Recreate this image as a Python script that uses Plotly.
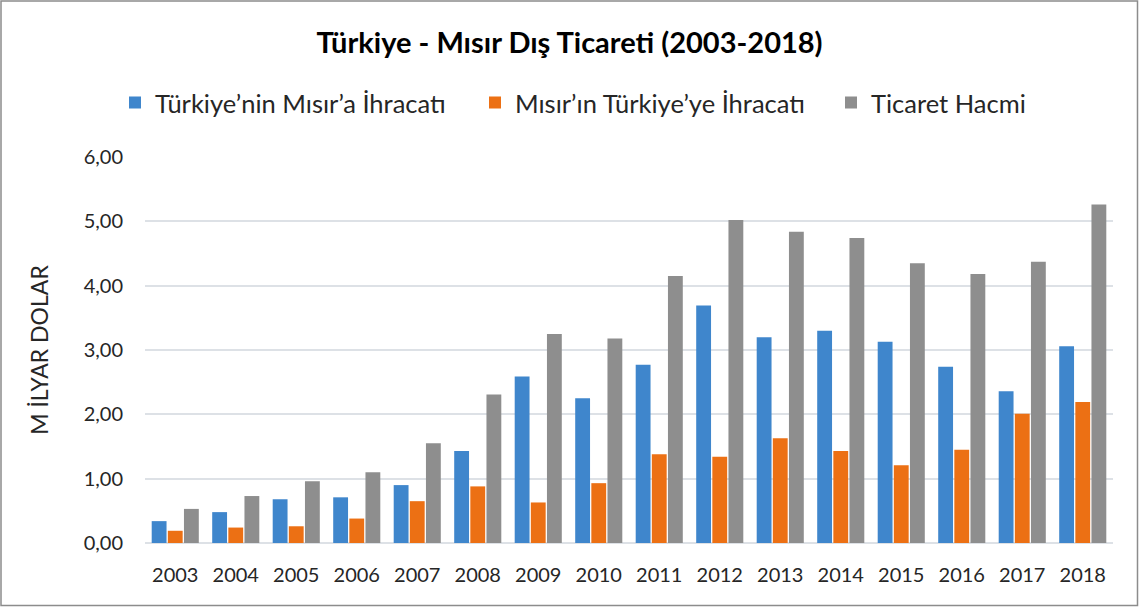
import plotly.graph_objects as go

years = [str(y) for y in range(2003, 2019)]
turkiye_ihracat = [0.34, 0.48, 0.68, 0.71, 0.90, 1.43, 2.59, 2.25, 2.77, 3.69, 3.20, 3.30, 3.13, 2.74, 2.36, 3.06]
misir_ihracat = [0.19, 0.24, 0.26, 0.38, 0.65, 0.88, 0.63, 0.93, 1.38, 1.34, 1.63, 1.43, 1.21, 1.45, 2.01, 2.19]
ticaret_hacmi = [0.53, 0.73, 0.96, 1.10, 1.55, 2.31, 3.25, 3.18, 4.15, 5.02, 4.84, 4.74, 4.35, 4.18, 4.37, 5.26]

names = ["Türkiye’nin Mısır’a İhracatı", "Mısır’ın Türkiye’ye İhracatı", "Ticaret Hacmi"]
colors = ["#3F86CC", "#EC7014", "#8E8E8E"]
legend_ids = ["legend", "legend2", "legend3"]
legend_x = [115, 475, 831]

W, H = 1139, 607
ml, mr, mt, mb = 145, 26, 157, 64

fig = go.Figure()
for name, vals, c, lg in zip(names, [turkiye_ihracat, misir_ihracat, ticaret_hacmi], colors, legend_ids):
    fig.add_trace(go.Bar(x=years, y=vals, name=name, legend=lg, showlegend=True,
                         marker=dict(color=c, line=dict(width=0))))

pw = W - ml - mr
ph = H - mt - mb
fig.add_shape(type="rect", xref="paper", yref="paper",
              x0=(1 - ml) / pw, x1=1 + (mr - 1.5) / pw,
              y0=-(mb - 1.5) / ph, y1=1 + (mt - 1) / ph,
              line=dict(color="#8C8C8C", width=1.5), fillcolor="rgba(0,0,0,0)", layer="below")

legend_common = dict(orientation="h", xref="container", xanchor="left",
                     y=1 - 103 / H, yref="container", yanchor="middle",
                     font=dict(size=25.5, color="#262626"), itemwidth=30,
                     bgcolor="rgba(0,0,0,0)")

fig.update_layout(
    width=W, height=H,
    showlegend=True,
    margin=dict(l=ml, r=mr, t=mt, b=mb),
    paper_bgcolor="white", plot_bgcolor="white",
    separators=",.",
    barmode="group", bargap=0.2, bargroupgap=0.08,
    font=dict(family="Lato, Open Sans, sans-serif", color="#404040", size=20),
    title=dict(text="<b>Türkiye - Mısır Dış Ticareti (2003-2018)</b>", x=0.5, xref="container",
               xanchor="center",
               y=1 - 43 / H, yref="container", yanchor="middle",
               font=dict(size=29, color="#000000", family="Lato, Open Sans, sans-serif")),
    legend=dict(x=legend_x[0] / W, **legend_common),
    legend2=dict(x=legend_x[1] / W, **legend_common),
    legend3=dict(x=legend_x[2] / W, **legend_common),
    xaxis=dict(type="category", showgrid=False, showline=False, ticks="",
               ticklabelstandoff=18,
               tickfont=dict(size=20, color="#262626")),
    yaxis=dict(range=[0, 6], dtick=1, tickformat=".2f", showgrid=True,
               gridcolor="#DDE1E6", gridwidth=1.5, zeroline=True, zerolinecolor="#DDE1E6",
               zerolinewidth=1.5, showline=False, ticks="", ticklabelstandoff=21,
               tickfont=dict(size=20, color="#262626"),
               title=dict(text="M İLYAR DOLAR", font=dict(size=23, color="#262626"), standoff=28)),
)

fig.write_html("out.html", config={"displayModeBar": False},
               post_script="document.body.style.margin='0';")
